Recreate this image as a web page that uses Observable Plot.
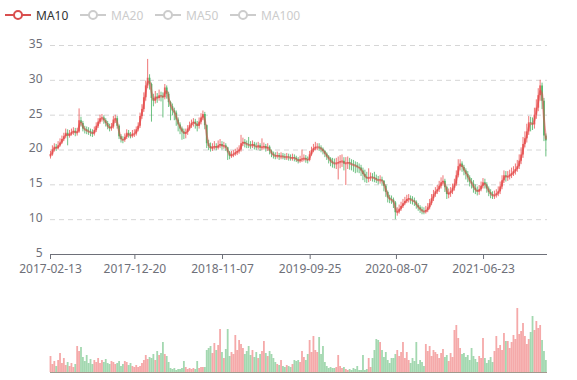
<!DOCTYPE html>
<html><head><meta charset="utf-8">
<script src="https://cdn.jsdelivr.net/npm/d3@7"></script>
<script src="https://cdn.jsdelivr.net/npm/@observablehq/plot@0.6"></script>
<style>
body{margin:0;background:#fff;font-family:"Noto Sans",sans-serif;}
#wrap{position:relative;width:577px;height:380px;overflow:hidden;}
#legend{position:absolute;left:0;top:0;height:30px;width:577px;font-size:12px;}
.item{position:absolute;top:7px;height:16px;display:flex;align-items:center;white-space:nowrap;}
.icon{position:relative;width:26px;height:12px;margin-right:5px;}
.icon::before{content:"";position:absolute;left:0;right:0;top:5px;height:2px;background:currentColor;}
.icon::after{content:"";position:absolute;left:8px;top:1px;width:6px;height:6px;border:2px solid currentColor;border-radius:50%;background:#fff;}
#price{position:absolute;left:0;top:30px;}
#vol{position:absolute;left:0;top:290px;}
</style></head>
<body>
<div id="wrap"><div id="legend"></div><div id="price"></div><div id="vol"></div></div>
<script>
const legendNames = ["MA10","MA20","MA50","MA100"];
const legendActive = [true,false,false,false];
const tickDates = ["2017-02-13","2017-12-20","2018-11-07","2019-09-25","2020-08-07","2021-06-23"];
const yTicks = [5,10,15,20,25,30,35];
const firstOpen = 19.0;

const closes = [
19.3,20.0,20.4,20.2,20.6,21.0,21.5,21.9,22.4,22.0,
22.3,22.5,22.7,22.4,22.6,24.2,23.8,23.0,22.9,22.7,
22.6,22.5,22.3,22.8,23.4,24.0,24.5,24.6,24.2,23.8,
23.3,23.1,23.3,24.3,24.5,23.4,21.9,21.5,21.4,21.8,
22.4,22.1,22.0,22.3,22.3,22.9,23.4,24.8,25.8,27.5,
29.2,30.3,29.4,27.4,27.0,27.6,27.4,27.8,27.7,27.5,
28.9,28.0,26.8,26.2,25.6,25.3,24.3,23.6,23.0,22.6,
22.3,22.5,23.0,23.5,23.8,24.0,23.7,23.4,24.0,24.6,
25.1,23.5,20.9,20.5,20.2,20.4,20.5,20.3,20.6,20.8,
20.5,20.6,20.3,19.6,19.1,19.3,19.4,19.6,19.8,20.0,
20.9,21.1,20.9,20.8,20.7,20.6,20.8,20.5,20.4,20.6,
20.3,20.4,20.5,20.2,20.4,19.8,19.4,19.2,19.1,19.2,
19.0,19.1,19.0,18.9,19.0,18.9,18.8,18.9,18.8,18.6,
18.4,18.6,18.7,18.8,18.6,18.5,19.3,19.9,20.2,20.4,
20.4,20.3,20.1,19.8,19.4,19.0,18.7,18.3,18.1,18.0,
18.1,18.2,18.3,18.4,18.0,18.1,18.2,18.0,17.9,17.8,
17.7,17.5,17.4,17.0,16.5,16.1,15.9,16.0,16.1,16.0,
15.9,15.7,15.6,15.7,15.5,14.8,13.9,13.1,12.9,12.8,
12.4,11.0,11.1,11.5,11.9,12.3,12.6,12.9,13.0,12.8,
12.7,12.5,12.0,11.7,11.4,11.2,11.1,11.3,11.7,12.3,
13.0,13.6,14.0,14.3,14.8,15.3,15.5,14.6,13.6,13.8,
14.0,14.5,15.1,16.3,17.6,18.0,17.5,17.0,16.5,16.0,
15.4,15.1,14.5,14.2,14.0,14.3,14.8,15.3,15.0,14.4,
13.9,13.6,13.4,13.5,13.7,14.0,14.7,15.6,16.3,16.1,
16.2,16.4,16.6,16.9,17.2,17.6,18.4,19.3,20.8,21.6,
22.6,23.9,23.8,23.6,25.0,26.0,27.8,29.2,27.0,22.0,
21.3];

const highs = [
19.8,20.6,20.9,20.8,21.2,21.6,22.0,22.4,23.0,22.9,
22.8,23.0,23.2,23.1,23.1,25.9,24.7,24.1,23.4,23.3,
23.2,23.0,22.9,23.3,23.9,24.5,25.0,25.1,24.9,24.5,
24.1,23.7,23.8,24.8,25.0,24.8,23.6,22.2,21.9,22.3,
22.9,22.8,22.5,22.8,22.9,23.3,23.9,25.3,26.5,28.2,
29.9,33.0,30.8,29.6,28.0,28.4,28.1,28.6,28.3,28.2,
29.4,29.2,28.3,27.0,26.6,26.0,25.6,24.6,23.9,23.3,
23.0,23.0,23.5,24.0,24.3,24.5,24.4,24.1,24.6,25.2,
25.6,25.4,23.6,21.4,21.0,20.9,21.2,20.9,21.3,21.5,
21.2,21.1,20.9,20.4,19.8,19.8,19.9,20.1,20.3,20.6,
22.1,21.7,21.5,21.3,21.8,21.2,21.3,21.1,21.0,21.1,
20.9,21.6,21.0,20.8,20.9,20.6,20.0,19.7,19.6,19.7,
19.5,19.6,19.5,19.4,19.5,19.4,19.3,19.4,19.3,19.1,
18.9,19.1,20.0,19.3,19.2,19.0,19.8,20.4,20.8,21.1,
20.9,20.9,20.6,20.3,19.9,19.6,19.2,18.9,18.8,18.7,
18.8,19.0,19.2,19.3,18.9,18.9,19.0,18.8,18.6,18.5,
18.3,18.2,18.0,17.8,17.4,17.1,16.8,17.3,16.7,16.6,
16.8,16.4,16.2,16.3,16.1,15.6,15.0,14.1,13.5,13.4,
13.1,12.6,11.7,12.1,12.5,12.9,13.2,13.5,13.6,13.4,
13.3,13.1,12.7,12.3,12.0,11.8,11.7,11.9,12.3,12.9,
13.6,14.2,14.6,14.9,15.5,16.0,16.3,15.8,14.8,14.4,
14.6,15.1,15.8,17.0,18.6,18.6,18.3,17.8,17.3,16.9,
16.3,15.9,15.6,15.0,14.7,14.9,15.4,15.9,15.8,15.3,
14.7,14.3,14.0,14.1,14.3,14.7,15.4,16.3,17.0,16.9,
16.9,17.1,17.4,17.6,18.0,18.5,19.3,20.3,21.8,22.6,
23.7,24.8,24.7,24.6,26.0,27.2,28.8,30.0,29.6,27.4,
22.3];

const lows = [
18.7,19.1,19.7,19.8,20.0,20.4,20.8,21.2,21.6,20.6,
21.7,22.0,22.1,21.9,22.0,22.4,23.3,22.6,22.3,22.2,
22.1,21.9,21.8,22.0,22.5,23.1,23.7,24.0,23.7,23.3,
22.9,22.6,22.7,23.0,23.8,23.0,21.5,21.0,20.9,21.1,
21.5,21.7,21.6,21.7,21.8,22.0,22.6,23.1,24.4,25.4,
27.0,28.8,28.6,24.0,26.2,26.6,26.7,27.0,26.9,24.6,
27.2,27.3,26.1,24.2,24.9,24.2,23.4,22.6,22.2,21.4,
21.5,21.6,22.1,22.7,23.1,23.3,23.0,22.6,23.0,23.6,
24.2,22.9,20.2,19.9,19.7,19.8,20.0,19.9,20.0,20.2,
20.0,20.1,19.8,18.5,18.6,18.8,18.9,19.1,19.2,19.4,
19.7,20.5,20.3,20.2,20.2,20.1,20.2,20.0,19.9,20.0,
19.8,19.9,20.0,19.7,19.8,19.3,18.9,18.7,18.6,18.7,
18.5,18.6,18.6,18.5,18.5,18.4,18.4,18.4,18.3,18.2,
18.0,18.1,18.2,18.3,18.1,18.0,18.3,19.1,19.6,19.9,
19.9,19.8,19.6,19.3,18.9,18.5,18.0,17.6,17.4,17.3,
17.2,15.7,17.3,17.5,17.0,14.9,17.2,17.1,17.0,16.8,
16.6,16.7,16.6,16.2,15.6,15.3,15.2,15.3,15.5,15.4,
15.3,15.2,15.0,15.1,14.8,14.0,13.2,12.4,12.3,12.2,
11.6,10.0,10.5,10.8,11.2,11.6,12.0,12.3,12.4,12.2,
12.1,11.9,11.5,11.2,10.9,10.7,10.7,10.8,11.0,11.4,
12.0,12.6,13.2,13.6,13.9,14.4,14.8,13.9,12.9,13.0,
13.2,13.6,14.1,14.8,16.0,17.0,16.8,16.3,15.7,15.3,
14.7,14.4,13.8,13.6,13.4,13.5,14.0,14.4,14.4,13.8,
13.3,13.0,12.9,12.9,13.1,13.3,13.6,14.3,15.2,15.4,
15.5,15.7,15.9,16.2,16.4,16.8,17.2,17.9,18.8,20.3,
21.0,22.1,22.6,22.8,23.0,24.4,25.5,27.0,25.8,21.2,
19.0];

const volumes = [
16,8,11,6,12,19,9,14,7,10,
6,9,5,8,26,21,25,15,11,17,
9,13,8,12,10,14,9,12,10,13,
9,8,11,10,8,9,11,6,8,11,
10,7,9,6,5,7,5,6,9,12,
17,13,15,14,18,12,21,17,19,30,
18,16,10,4,3,4,2,3,3,4,
11,5,3,4,3,4,3,11,4,5,
5,5,22,24,26,19,29,22,27,43,
20,14,23,43,16,20,18,37,22,32,
28,24,18,21,26,17,22,15,20,14,
18,21,31,19,16,21,18,14,10,8,
7,12,6,5,7,6,5,8,12,11,
12,10,21,15,12,18,32,20,36,22,
20,35,18,26,10,6,4,5,4,4,
5,17,6,4,5,3,2,3,2,4,
3,6,2,2,17,2,3,14,5,14,
22,33,32,30,22,15,20,12,9,14,
14,18,22,16,20,30,14,20,12,9,
14,11,30,8,12,10,6,28,21,26,
16,22,20,18,14,19,23,15,17,11,
19,15,42,47,34,24,18,19,15,17,
12,24,16,13,10,16,14,34,14,9,
12,15,10,21,36,24,27,22,39,31,
31,24,30,37,33,64,38,41,49,36,
28,33,40,56,42,51,44,47,32,21,
12];

const dates = d3.utcMonday.range(new Date("2017-02-13"), new Date("2022-02-08"));
const xDomain = [new Date("2017-02-13"), new Date("2022-02-13")];
const UP = "#eb5454", DOWN = "#47b262";

const data = dates.map((d, i) => {
  const open = i ? closes[i - 1] : firstOpen;
  return {date: d, open, close: closes[i], high: highs[i], low: lows[i], volume: volumes[i],
          color: closes[i] >= open ? UP : DOWN};
});

// legend
const lg = document.getElementById("legend");
const lgLeft = [5, 80, 155, 230];
legendNames.forEach((n, i) => {
  const it = document.createElement("div");
  it.className = "item";
  it.style.left = lgLeft[i] + "px";
  const ic = document.createElement("span");
  ic.className = "icon";
  ic.style.color = legendActive[i] ? "#d94e4e" : "#cccccc";
  const tx = document.createElement("span");
  tx.textContent = n;
  tx.style.color = legendActive[i] ? "#333333" : "#cccccc";
  it.append(ic, tx);
  lg.append(it);
});

const font = '"Noto Sans", sans-serif';

const price = Plot.plot({
  width: 577, height: 250,
  marginTop: 15, marginBottom: 26, marginLeft: 50, marginRight: 30,
  style: {fontFamily: font, fontSize: "12px", background: "transparent", overflow: "visible"},
  x: {type: "utc", domain: xDomain},
  y: {domain: [5, 35]},
  color: {type: "identity"},
  marks: [
    Plot.gridY(yTicks.slice(1), {stroke: "#d6d6d6", strokeOpacity: 1, strokeDasharray: "5,4"}),
    Plot.axisY({ticks: yTicks, tickSize: 0, tickPadding: 8, label: null, color: "#6E7079", dy: -1.5}),
    Plot.axisX({ticks: tickDates.map(s => new Date(s)), tickFormat: d3.utcFormat("%Y-%m-%d"),
                tickSize: 5, tickPadding: 5, label: null, color: "#6E7079"}),
    Plot.ruleY([5], {stroke: "#6E7079"}),
    Plot.ruleX(data, {x: "date", y1: "low", y2: "high", stroke: "color", strokeWidth: 1, strokeOpacity: 0.8}),
    Plot.ruleX(data, {x: "date", y1: "open", y2: "close", stroke: "color", strokeWidth: 1.8, strokeOpacity: 0.85}),
    Plot.lineY(data, Plot.windowY({k: 2, anchor: "end"},
      {x: "date", y: "close", stroke: "#e04848", strokeWidth: 2, strokeOpacity: 0.55, curve: "monotone-x"}))
  ]
});
document.getElementById("price").append(price);

const vol = Plot.plot({
  width: 577, height: 90,
  marginTop: 18, marginBottom: 8, marginLeft: 50, marginRight: 30,
  style: {fontFamily: font, background: "transparent"},
  x: {type: "utc", domain: xDomain, axis: null},
  y: {domain: [0, d3.max(volumes)], axis: null},
  color: {type: "identity"},
  marks: [
    Plot.ruleX(data, {x: "date", y1: 0, y2: "volume", stroke: "color", strokeWidth: 1.8, strokeOpacity: 0.5}),
    Plot.ruleY([0], {stroke: "#8a8070", strokeOpacity: 0.8})
  ]
});
document.getElementById("vol").append(vol);
</script>
</body></html>
